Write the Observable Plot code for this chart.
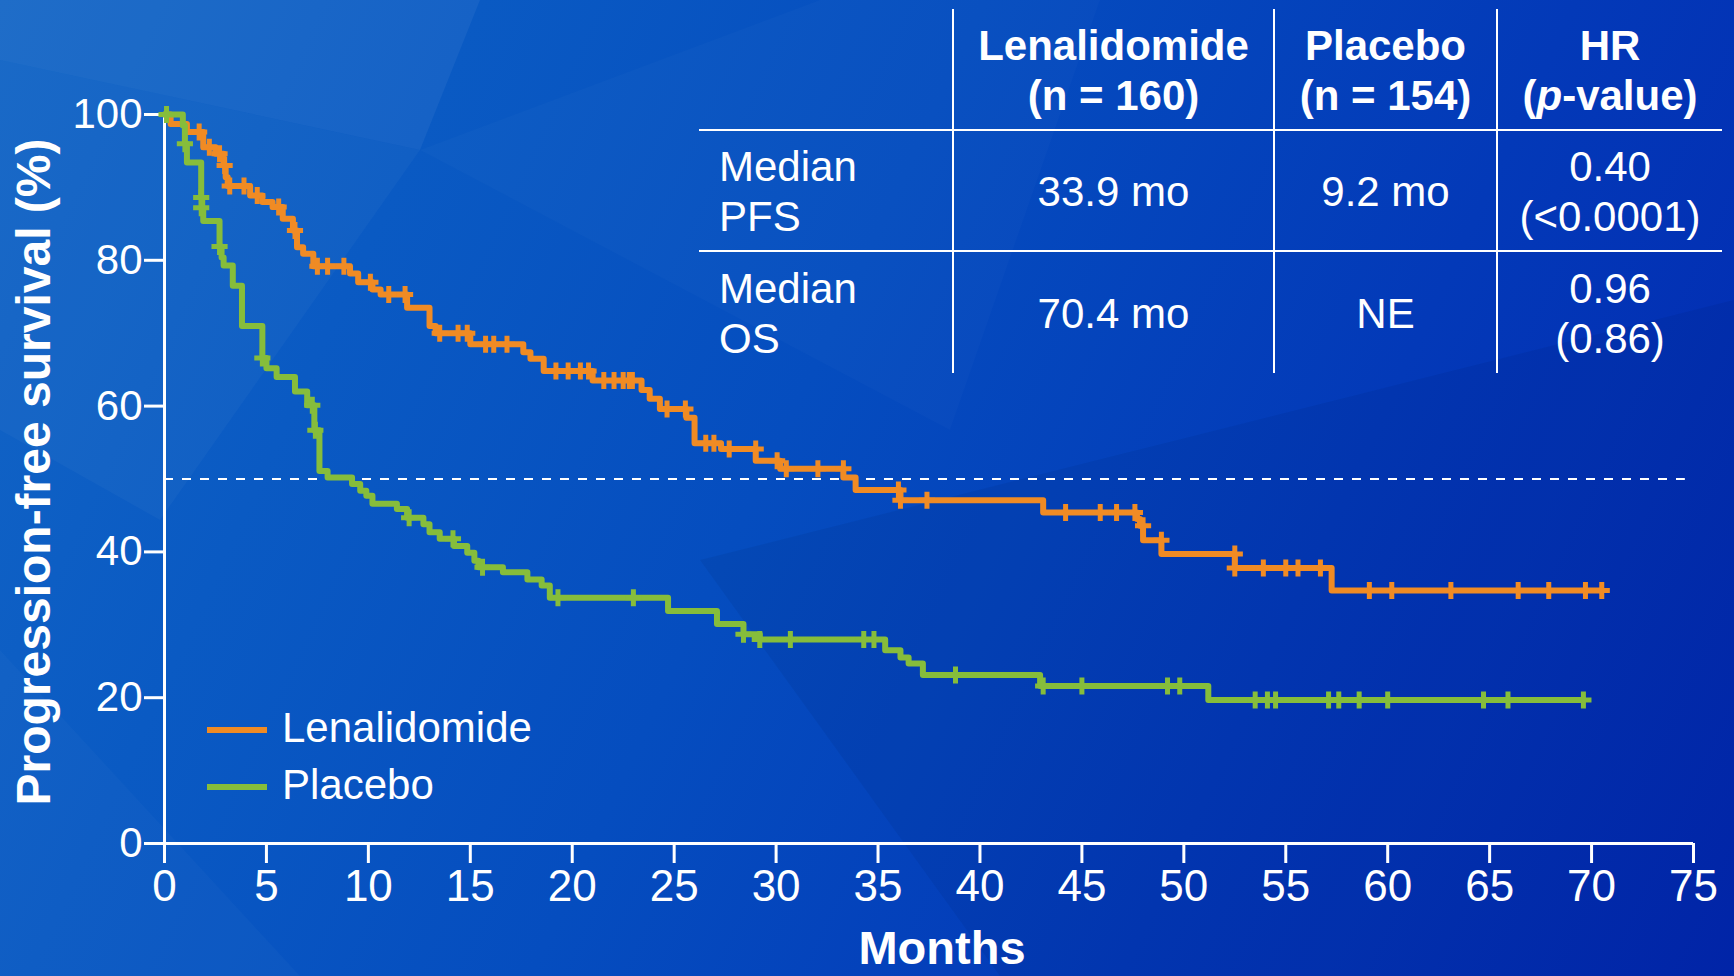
<!DOCTYPE html>
<html>
<head>
<meta charset="utf-8">
<script src="https://cdn.jsdelivr.net/npm/d3@7"></script>
<script src="https://cdn.jsdelivr.net/npm/@observablehq/plot@0.6"></script>
<style>
  html, body { margin: 0; padding: 0; }
  body { width: 1734px; height: 976px; overflow: hidden; font-family: "Liberation Sans", Arial, sans-serif; }
  #stage {
    position: relative; width: 1734px; height: 976px; overflow: hidden;
    background: linear-gradient(115deg, #1366c6 0%, #0a5ac3 22%, #054dbf 45%, #0339b8 72%, #0227b0 100%);
  }
  .facet { position: absolute; inset: 0; pointer-events: none; }
  #chart { position: absolute; left: 0; top: 0; }
  #summary {
    position: absolute; left: 699px; top: 9px;
    display: grid;
    grid-template-columns: 255px 321px 223px 224px;
    grid-template-rows: 122px 121px 121px;
    color: #fff; font-size: 42px; line-height: 50px;
  }
  .cell {
    box-sizing: border-box; display: flex; flex-direction: column;
    justify-content: center; align-items: center; text-align: center; padding-top: 3px;
  }
  .cell.first { align-items: flex-start; text-align: left; padding-left: 20px; }
  .cell.vr { border-right: 2px solid #fff; }
  .cell.hb { border-bottom: 2px solid #fff; }
  .cell.head { font-weight: bold; }
  #legend { position: absolute; left: 207px; top: 701px; color: #fff; font-size: 42px; }
  .item { display: flex; align-items: center; height: 57px; }
  .swatch { width: 60px; height: 6px; margin-right: 15px; }
  .item span { line-height: 42px; position: relative; top: -2px; }
</style>
</head>
<body>
<div id="stage">
  <div class="facet" style="background: rgba(255,255,255,0.05); clip-path: polygon(0 0, 480px 0, 420px 150px, 0 60px);"></div>
  <div class="facet" style="background: rgba(255,255,255,0.03); clip-path: polygon(0 60px, 420px 150px, 160px 520px, 0 430px);"></div>
  <div class="facet" style="background: rgba(255,255,255,0.02); clip-path: polygon(420px 150px, 820px 0, 1100px 0, 950px 430px);"></div>
  <div class="facet" style="background: rgba(0,0,40,0.06); clip-path: polygon(700px 560px, 1734px 300px, 1734px 976px, 1000px 976px);"></div>
  <div class="facet" style="background: rgba(255,255,255,0.025); clip-path: polygon(0 650px, 300px 976px, 0 976px);"></div>
  <div id="chart"></div>
  <div id="summary"></div>
  <div id="legend"></div>
</div>
<script>
// Kaplan–Meier steps: [month, progression-free %] where each level starts
const lenaSteps = [
  [0,100],[0.3,98.7],[1.1,97.6],[1.9,95.5],[2.5,94.6],[2.9,93.0],[3.0,91.4],[3.1,90.2],
  [4.2,88.9],[4.8,88.0],[5.3,87.3],[5.8,85.7],[6.3,84.1],[6.5,81.8],[6.8,80.9],[7.3,79.2],
  [9.1,78.2],[9.5,77.0],[10.2,76.0],[10.6,75.3],[11.9,73.5],[13.0,71.0],[13.3,70.0],
  [15.0,68.5],[17.6,67.4],[17.95,66.5],[18.6,64.8],[21.0,63.5],[23.4,62.2],[23.8,61.0],
  [24.3,59.6],[25.6,58.4],[26.0,54.9],[27.3,54.1],[29.0,52.5],[30.2,51.4],[33.3,50.2],
  [33.9,48.5],[36.1,47.1],[43.1,45.4],[47.7,44.5],[47.85,43.6],[48.0,41.6],[48.9,39.7],
  [52.5,37.8],[57.25,34.7],[70.5,34.7]
];
// Censored observations (tick marks) on the lenalidomide curve
const lenaCensored = [
  [1.7,97.6],[2.2,95.5],[2.7,94.6],[2.95,93.0],[3.2,90.2],[3.9,90.2],[4.55,88.9],[5.6,87.3],
  [6.4,84.1],[7.5,79.2],[8.0,79.2],[8.8,79.2],[10.1,77.0],[11.0,75.3],[11.8,75.3],[13.5,70.0],
  [14.4,70.0],[14.85,70.0],[15.75,68.5],[16.15,68.5],[16.8,68.5],[19.2,64.8],[19.8,64.8],
  [20.4,64.8],[20.8,64.8],[21.55,63.5],[22.05,63.5],[22.5,63.5],[22.8,63.5],[22.95,63.5],
  [24.65,59.6],[25.55,59.6],[26.55,54.9],[26.95,54.9],[27.7,54.1],[29.0,54.1],[30.05,52.5],
  [30.5,51.4],[32.05,51.4],[33.3,51.4],[36.0,48.5],[36.1,47.1],[37.4,47.1],[44.2,45.4],
  [45.9,45.4],[46.7,45.4],[47.6,45.4],[48.0,43.6],[48.9,41.6],[52.5,39.7],[52.5,37.8],
  [53.9,37.8],[55.0,37.8],[55.6,37.8],[56.7,37.8],[59.1,34.7],[60.2,34.7],[63.1,34.7],
  [66.4,34.7],[67.9,34.7],[69.7,34.7],[70.5,34.7]
];
const placeboSteps = [
  [0,100],[0.9,98.5],[1.0,96.0],[1.1,93.4],[1.8,88.6],[1.85,87.2],[1.9,85.4],[2.7,81.9],
  [2.8,80.4],[2.9,79.3],[3.35,76.5],[3.8,71.0],[4.8,66.6],[5.0,65.2],[5.5,64.0],[6.4,62.0],
  [7.0,60.1],[7.35,56.7],[7.6,51.1],[8.0,50.2],[9.2,49.3],[9.6,48.4],[9.9,47.7],[10.2,46.6],
  [11.4,45.9],[11.9,44.7],[12.7,43.8],[13.0,42.7],[13.5,41.8],[14.2,40.8],[14.85,39.9],
  [15.2,38.8],[15.4,37.9],[16.6,37.2],[17.8,36.2],[18.5,35.4],[18.9,33.7],[24.7,31.9],
  [27.1,30.1],[28.4,28.7],[29.2,28.0],[35.35,26.5],[36.1,25.5],[36.5,24.7],[37.2,23.1],
  [42.95,21.6],[51.2,19.7],[69.6,19.7]
];
const placeboCensored = [
  [0.1,100],[1.0,96.0],[1.8,88.6],[1.8,87.2],[2.7,81.9],[4.8,66.6],[7.25,60.1],[7.4,56.7],
  [12.0,44.7],[14.15,41.8],[15.6,37.9],[19.3,33.7],[23.0,33.7],[28.4,28.7],[29.2,28.0],
  [30.7,28.0],[34.3,28.0],[34.8,28.0],[38.8,23.1],[43.1,21.6],[45.0,21.6],[49.2,21.6],
  [49.8,21.6],[53.5,19.7],[54.1,19.7],[54.5,19.7],[57.1,19.7],[57.6,19.7],[58.6,19.7],
  [60.0,19.7],[64.7,19.7],[65.9,19.7],[69.6,19.7]
];

const seriesNames = ["Lenalidomide", "Placebo"];
const seriesColors = ["#F08B24", "#86BD3B"];
const xTicks = [0, 5, 10, 15, 20, 25, 30, 35, 40, 45, 50, 55, 60, 65, 70, 75];
const yTicks = [0, 20, 40, 60, 80, 100];
const medianLevel = 50;
const xLabel = "Months";
const yLabel = "Progression-free survival (%)";

// Summary table
const tableHeads = [["Lenalidomide", "(n = 160)"], ["Placebo", "(n = 154)"], ["HR", "(<i>p</i>-value)"]];
const rowLabels = [["Median", "PFS"], ["Median", "OS"]];
const lenaMedians = ["33.9 mo", "70.4 mo"];
const placeboMedians = ["9.2 mo", "NE"];
const hazardRatios = [["0.40", "(&lt;0.0001)"], ["0.96", "(0.86)"]];

const toRows = (pairs) => pairs.map(([t, s]) => ({t, s}));

// Censor mark: a short vertical bar crossed by a horizontal stub
const censorMark = {
  draw(context, size) {
    const r = Math.sqrt(size / Math.PI);
    context.moveTo(0, -r);
    context.lineTo(0, r);
    context.moveTo(-r * 0.95, 0);
    context.lineTo(r * 0.95, 0);
  }
};

const font = '"Liberation Sans", Arial, sans-serif';

const chart = Plot.plot({
  width: 1734,
  height: 976,
  marginLeft: 164,
  marginRight: 41,
  marginTop: 114,
  marginBottom: 133,
  x: {domain: [0, 75]},
  y: {domain: [0, 100]},
  style: {background: "transparent", color: "#fff", fontFamily: font, overflow: "visible"},
  marks: [
    Plot.ruleY([medianLevel], {x1: 0, x2: 74.6, stroke: "#fff", strokeWidth: 2, strokeDasharray: "9,9"}),
    Plot.ruleX([0], {y1: 0, y2: 100, stroke: "#fff", strokeWidth: 3}),
    Plot.ruleY([0], {x1: 0, x2: 75, stroke: "#fff", strokeWidth: 3}),
    Plot.axisX({ticks: xTicks, tickSize: 20, tickPadding: 6, fontSize: 44, strokeWidth: 3, label: null, tickFormat: (d) => String(d)}),
    Plot.axisY({ticks: yTicks, tickSize: 20, tickPadding: 2, fontSize: 42, strokeWidth: 3, label: null, tickFormat: (d) => String(d)}),
    Plot.line(toRows(lenaSteps), {x: "t", y: "s", curve: "step-after", stroke: seriesColors[0], strokeWidth: 6}),
    Plot.dot(toRows(lenaCensored), {x: "t", y: "s", symbol: censorMark, r: 8.5, stroke: seriesColors[0], strokeWidth: 5, fill: "none"}),
    Plot.line(toRows(placeboSteps), {x: "t", y: "s", curve: "step-after", stroke: seriesColors[1], strokeWidth: 6}),
    Plot.dot(toRows(placeboCensored), {x: "t", y: "s", symbol: censorMark, r: 8.5, stroke: seriesColors[1], strokeWidth: 5, fill: "none"}),
    Plot.text([yLabel], {text: (d) => d, frameAnchor: "left", textAnchor: "middle", dx: -130, dy: -7, rotate: -90, fontSize: 48, fontWeight: "bold", fill: "#fff", lineAnchor: "middle"}),
    Plot.text([xLabel], {text: (d) => d, frameAnchor: "bottom", textAnchor: "middle", dx: 13, dy: 105, fontSize: 47, fontWeight: "bold", fill: "#fff", lineAnchor: "middle"})
  ]
});
document.getElementById("chart").appendChild(chart);

// Build summary table
const summary = document.getElementById("summary");
function addCell(lines, classes) {
  const div = document.createElement("div");
  div.className = "cell " + classes;
  div.innerHTML = lines.map((l) => `<div>${l}</div>`).join("");
  summary.appendChild(div);
}
addCell([""], "first vr hb");
tableHeads.forEach((h, i) => addCell(h, "head hb" + (i < tableHeads.length - 1 ? " vr" : "")));
rowLabels.forEach((label, r) => {
  const hb = r < rowLabels.length - 1 ? " hb" : "";
  addCell(label, "first vr" + hb);
  addCell([lenaMedians[r]], "vr" + hb);
  addCell([placeboMedians[r]], "vr" + hb);
  addCell(hazardRatios[r], hb);
});

// Legend
const legend = document.getElementById("legend");
seriesNames.forEach((name, i) => {
  const item = document.createElement("div");
  item.className = "item";
  item.innerHTML = `<div class="swatch" style="background:${seriesColors[i]}"></div><span>${name}</span>`;
  legend.appendChild(item);
});
</script>
</body>
</html>
